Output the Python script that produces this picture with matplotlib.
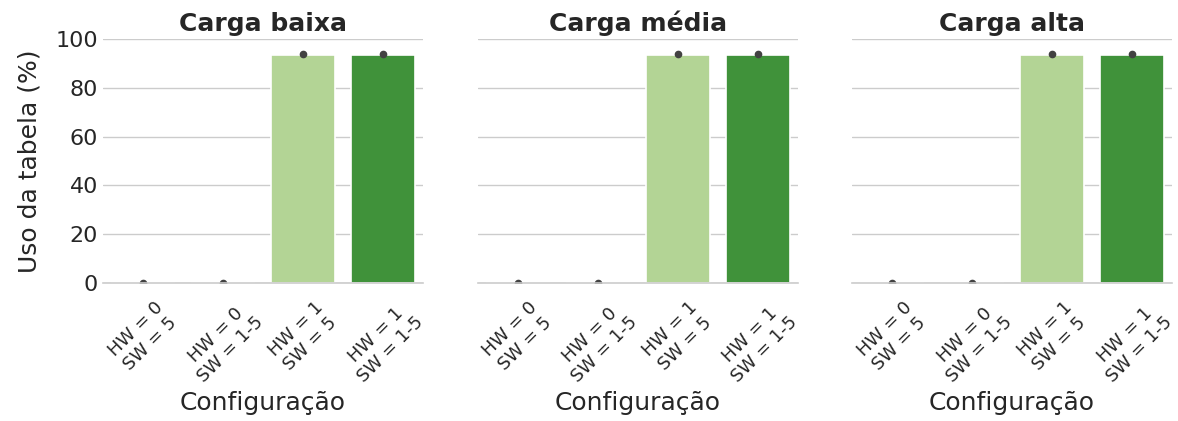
import numpy as np
import matplotlib
matplotlib.use("Agg")
import matplotlib.pyplot as plt
import seaborn as sns

panels = ["Carga baixa", "Carga média", "Carga alta"]
configs = ["HW = 0\nSW = 5", "HW = 0\nSW = 1-5", "HW = 1\nSW = 5", "HW = 1\nSW = 1-5"]
usage = {
    "Carga baixa": [0.0, 0.0, 93.5, 93.5],
    "Carga média": [0.0, 0.0, 93.5, 93.5],
    "Carga alta": [0.0, 0.0, 93.5, 93.5],
}
# mean of the (tiny) confidence interval drawn as a dot above each bar
err_mid = [0.0, 0.0, 93.9, 93.9]

sns.set_theme(style="whitegrid")
plt.rcParams['font.family'] = ['DejaVu Sans']
colors = sns.color_palette("Paired", 4, desat=0.75)

fig, axes = plt.subplots(1, 3, figsize=(11.78, 4.21), dpi=100, sharey=True)
fig.subplots_adjust(left=0.0875, right=0.995, top=0.907, bottom=0.328, wspace=0.17)

x = np.arange(len(configs))
for ax, name in zip(axes, panels):
    ax.bar(x, usage[name], width=0.8, color=colors, edgecolor="white", linewidth=1.2, zorder=2)
    ax.plot(x, err_mid, linestyle="none", marker="o", ms=4.5, color=".26", zorder=3)
    ax.set_xlim(-0.5, 3.5)
    ax.set_ylim(0, 100)
    ax.set_xticks(x)
    ax.set_xticklabels(configs, rotation=45, ha="center", fontsize=13, color=".15")
    ax.set_title(name, fontsize=18, fontweight="bold", color=".15", pad=6)
    ax.set_xlabel("Configuração", fontsize=18, color=".15")
    ax.grid(axis="x", visible=False)
    ax.grid(axis="y", color="#cccccc", lw=1)
    ax.set_yticks([0, 20, 40, 60, 80, 100])
    ax.tick_params(axis="y", labelsize=16, colors=".15", length=0)
    ax.tick_params(axis="x", length=0, pad=11)
    for side in ["left", "right", "top"]:
        ax.spines[side].set_visible(False)
    ax.spines["bottom"].set_color("#cccccc")
    ax.spines["bottom"].set_linewidth(1.2)
    ax.spines["bottom"].set_zorder(4)

axes[0].set_ylabel("Uso da tabela (%)", fontsize=18, color=".15", labelpad=10)
for ax in axes[1:]:
    ax.tick_params(axis="y", labelleft=False)

fig.savefig("out.png", dpi=100)
